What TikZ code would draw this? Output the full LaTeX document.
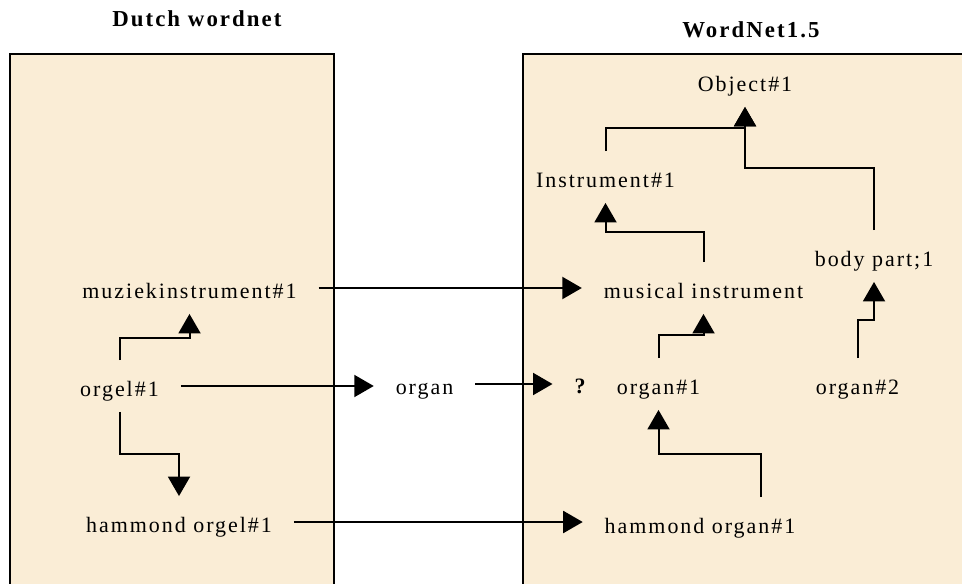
\documentclass[tikz,border=0pt]{standalone}
\usepackage{fontspec}
\usetikzlibrary{arrows.meta}

\newfontfamily\wnfont{Liberation Serif}[LetterSpace=9]
\definecolor{parchment}{RGB}{250,237,214}

\tikzset{
  word/.style={font=\wnfont\fontsize{12.5}{14}\selectfont, inner sep=0pt,
    outer xsep=0.44cm, outer ysep=0.28cm, text height=12.5pt, text depth=1.1pt, anchor=base},
  title/.style={font=\wnfont\fontsize{13}{15}\selectfont\bfseries, inner sep=0pt, anchor=base west},
  net/.style={draw, line width=0.04cm, fill=parchment},
  link/.style={line width=0.04cm, -{Triangle[width=0.44cm,length=0.39cm]}},
}

\begin{document}
\begin{tikzpicture}[x=0.02cm,y=-0.02cm]

\useasboundingbox (0,0) rectangle (962,583);

\draw[net] (10,54) rectangle (334,600);
\draw[net] (523,54) rectangle (990,600);

\node[title] (dutch) at (112,26) {Dutch wordnet};
\node[title] (wn) at (682,37) {WordNet1.5};

% dutch side
\node[word] (muziek) at (189.5,298) {muziekinstrument\#1};
\node[word] (orgel) at (119.5,396) {orgel\#1};
\node[word] (horgel) at (179,532) {hammond orgel\#1};

\node[word] (organ) at (424.5,394) {organ};

% wordnet side
\node[word] (object) at (745,91) {Object\#1};
\node[word] (instr) at (605.5,187) {Instrument\#1};
\node[word] (musical) at (703.5,298) {musical instrument};
\node[word] (body) at (874,266) {body part;1};
\node[word,font=\wnfont\fontsize{12.5}{14}\selectfont\bfseries] (q) at (580,393) {?};
\node[word] (organ1) at (658.5,394) {organ\#1};
\node[word] (organ2) at (857.5,394) {organ\#2};
\node[word] (horgan) at (700,533) {hammond organ\#1};

\draw[link] (orgel.north) -- ++(0,-22) -| (muziek.south);
\draw[link] (orgel.south) -- ++(0,42) -| (horgel.north);

\draw[link] (muziek.east) -- (muziek.east -| musical.west);
\draw[link] (orgel.east) -- (orgel.east -| organ.west);
\draw[link] (organ.east) -- (organ.east -| q.west);
\draw[link] (horgel.east) -- (horgel.east -| horgan.west);

\draw[link] (instr.north) -- ++(0,-23) -| (object.south);
\draw[link] (body.north) -- ++(0,-62) -| (object.south);
\draw[link] (musical.north) -- ++(0,-30) -| (instr.south);
\draw[link] (organ1.north) -- ++(0,-23) -| (musical.south);
\draw[link] (organ2.north) -- ++(0,-38) -| (body.south);
\draw[link] ([xshift=1.22cm]horgan.north) -- ++(0,-43) -| (organ1.south);

\end{tikzpicture}
\end{document}
